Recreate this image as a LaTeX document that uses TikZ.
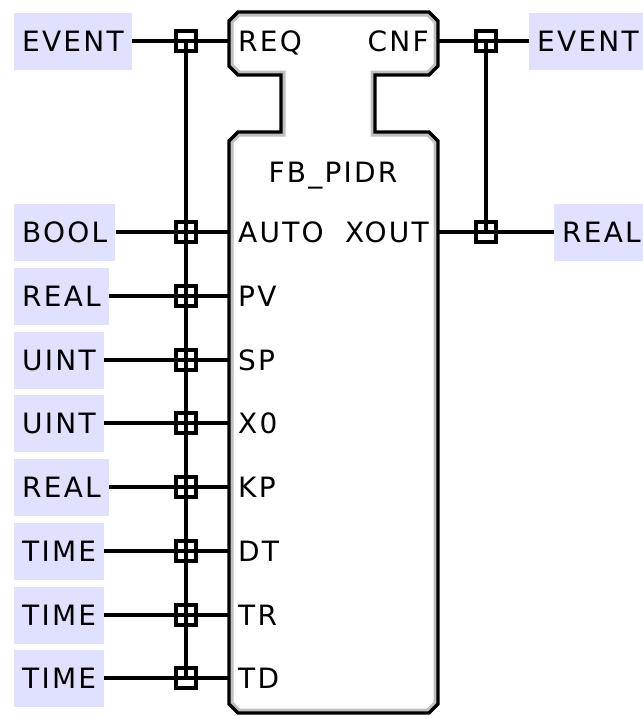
\documentclass[tikz,border=0pt]{standalone}
\usepackage{fontspec}
\newfontfamily\fbfont[LetterSpace=8]{DejaVu Sans}
\definecolor{typefill}{RGB}{224,224,255}
\definecolor{bevel}{RGB}{192,192,192}
% outline of the function block (event part, neck, data part)
\newcommand\fbshape{(229,21) -- (238,12) -- (429,12) -- (438,21) -- (438,66) -- (429,75)
  -- (375,75) -- (375,132) -- (429,132) -- (438,141) -- (438,704) -- (429,713)
  -- (238,713) -- (229,704) -- (229,141) -- (238,132) -- (281,132) -- (281,75)
  -- (238,75) -- (229,66) -- cycle}

\begin{document}
\begin{tikzpicture}[x=1pt,y=-1pt,
  wire/.style={line width=3.2pt},
  typebox/.style={fill=typefill,inner xsep=8pt,minimum height=57pt,text height=20pt,text depth=0pt,
    font=\fbfont\fontsize{28}{28}\selectfont},
  pin/.style={inner xsep=9pt,inner ysep=0pt,text height=20pt,text depth=0pt,
    font=\fbfont\fontsize{28}{28}\selectfont},
  junc/.style={draw,line width=3.2pt,minimum size=20pt,inner sep=0pt}]
\useasboundingbox (0,0) rectangle (643,716);

% block body with grey inner bevel
\fill[white] \fbshape;
\begin{scope}
\clip \fbshape;
\draw[bevel,line width=9pt] \fbshape;
\end{scope}
\draw[wire] \fbshape;

\node[pin] at (333,172) {FB\_PIDR};

% pins
\node[pin,anchor=west] (pREQ) at (229,41) {REQ};
\node[pin,anchor=east] (pCNF) at (438,41) {CNF};
\node[pin,anchor=west] (pAUTO) at (229,232) {AUTO};
\node[pin,anchor=east] (pXOUT) at (438,232) {XOUT};
\node[pin,anchor=west] (pPV) at (229,296) {PV};
\node[pin,anchor=west] (pSP) at (229,360) {SP};
\node[pin,anchor=west] (pX0) at (229,423) {X0};
\node[pin,anchor=west] (pKP) at (229,487) {KP};
\node[pin,anchor=west] (pDT) at (229,551) {DT};
\node[pin,anchor=west] (pTR) at (229,615) {TR};
\node[pin,anchor=west] (pTD) at (229,678) {TD};

% data types
\node[typebox,anchor=west] (tREQ) at (14,41) {EVENT};
\node[typebox,anchor=west] (tCNF) at (529,41) {EVENT};
\node[typebox,anchor=west] (tAUTO) at (14,232) {BOOL};
\node[typebox,anchor=west] (tXOUT) at (554,232) {REAL};
\node[typebox,anchor=west] (tPV) at (14,296) {REAL};
\node[typebox,anchor=west] (tSP) at (14,360) {UINT};
\node[typebox,anchor=west] (tX0) at (14,423) {UINT};
\node[typebox,anchor=west] (tKP) at (14,487) {REAL};
\node[typebox,anchor=west] (tDT) at (14,551) {TIME};
\node[typebox,anchor=west] (tTR) at (14,615) {TIME};
\node[typebox,anchor=west] (tTD) at (14,678) {TIME};

% connections
\draw[wire] (tREQ) -- (pREQ);
\draw[wire] (pCNF) -- (tCNF);
\draw[wire] (tAUTO) -- (pAUTO);
\draw[wire] (pXOUT) -- (tXOUT);
\draw[wire] (tPV) -- (pPV);
\draw[wire] (tSP) -- (pSP);
\draw[wire] (tX0) -- (pX0);
\draw[wire] (tKP) -- (pKP);
\draw[wire] (tDT) -- (pDT);
\draw[wire] (tTR) -- (pTR);
\draw[wire] (tTD) -- (pTD);

% WITH associations
\node[junc] (jREQ) at (186,41) {};
\node[junc] (jAUTO) at (186,232) {};
\node[junc] (jPV) at (186,296) {};
\node[junc] (jSP) at (186,360) {};
\node[junc] (jX0) at (186,423) {};
\node[junc] (jKP) at (186,487) {};
\node[junc] (jDT) at (186,551) {};
\node[junc] (jTR) at (186,615) {};
\node[junc] (jTD) at (186,678) {};
\draw[wire] (jREQ.center) -- (jTD.center);
\node[junc] (jCNF) at (486,41) {};
\node[junc] (jXOUT) at (486,232) {};
\draw[wire] (jCNF.center) -- (jXOUT.center);
\end{tikzpicture}
\end{document}
